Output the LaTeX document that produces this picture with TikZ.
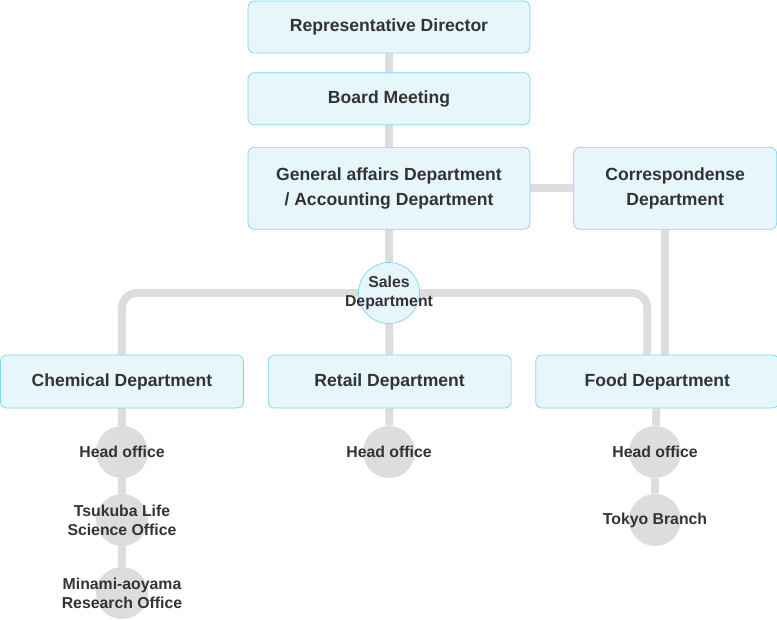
\documentclass[tikz,border=0pt]{standalone}
\usepackage{fontspec}
\setmainfont{Liberation Sans}
\usetikzlibrary{positioning,backgrounds}
\definecolor{boxfill}{HTML}{E6F6FA}
\definecolor{boxline}{HTML}{7DD5EE}
\definecolor{linegray}{HTML}{DDDDDD}
\definecolor{txt}{HTML}{333333}
\newcommand{\nowidth}[1]{\makebox[0pt]{#1}}
\tikzset{
    deptbox/.style    = {draw=boxline, fill=boxfill, rounded corners=3.5pt, text=txt,
                         font=\bfseries\fontsize{10}{14.2}\selectfont, align=center,
                         minimum height=1.04cm, inner sep=0pt},
    officenode/.style = {circle, fill=linegray, minimum size=1.04cm, inner sep=0pt, text=txt,
                         font=\bfseries\fontsize{9}{10.8}\selectfont, align=center},
    salesnode/.style  = {circle, draw=boxline, fill=boxfill, minimum size=1.22cm, inner sep=0pt,
                         text=txt, font=\bfseries\fontsize{9}{10.8}\selectfont, align=center},
    orgedge/.style    = {linegray, line width=4.5pt},
}

\begin{document}
\begin{tikzpicture}[x=0.02cm, y=-0.02cm]
        \useasboundingbox (0,0) rectangle (777,619);
        % upper management
        \node[deptbox, minimum width=5.64cm] (rep) at (389,27) {Representative Director};
        \node[deptbox, minimum width=5.64cm, below=0.38cm of rep] (board) {Board Meeting};
        \node[deptbox, minimum width=5.64cm, minimum height=1.64cm, below=0.44cm of board] (gen)
            {General affairs Department\\/ Accounting Department};
        \node[deptbox, minimum width=4.06cm, minimum height=1.64cm, right=0.86cm of gen] (corr)
            {Correspondense\\Department};
        \node[salesnode] (sales) at (389,293) {\nowidth{Sales}\\\nowidth{Department}};

        % departments
        \node[deptbox, minimum width=4.86cm, minimum height=1.06cm] (chem) at (122,381.5) {Chemical Department};
        \node[deptbox, minimum width=4.86cm, minimum height=1.06cm, right=0.48cm of chem] (retail) {Retail Department};
        \node[deptbox, minimum width=4.86cm, minimum height=1.06cm, right=0.48cm of retail] (food) {Food Department};

        % offices
        \node[officenode] (chemhead) at (122,452) {\nowidth{Head office}};
        \node[officenode] (tsukuba) at (122,520) {\nowidth{Tsukuba Life}\\\nowidth{Science Office}};
        \node[officenode] (minami) at (122,593) {\nowidth{Minami-aoyama}\\\nowidth{Research Office}};
        \node[officenode] (retailhead) at (389,452) {\nowidth{Head office}};
        \node[officenode] (foodhead) at (655,452) {\nowidth{Head office}};
        \node[officenode] (tokyo) at (655,520) {\nowidth{Tokyo Branch}};

        \coordinate (foodtap) at ([xshift=-0.2cm]food.north);
        \coordinate (corrtap) at ([xshift=0.16cm]food.north);

        \begin{scope}[on background layer]
            \draw[orgedge] (rep) -- (board) -- (gen) -- (sales) -- (retail);
            \draw[orgedge] (gen) -- (corr);
            \draw[orgedge] (corrtap |- corr.south) -- (corrtap);
            \draw[orgedge, rounded corners=0.3cm] (chem.north) |- (sales.center) -| (foodtap);
            \draw[orgedge] (chem) -- (chemhead) -- (tsukuba) -- (minami);
            \draw[orgedge] (retail) -- (retailhead);
            \draw[orgedge] (food) -- (foodhead) -- (tokyo);
        \end{scope}
    \end{tikzpicture}
\end{document}
